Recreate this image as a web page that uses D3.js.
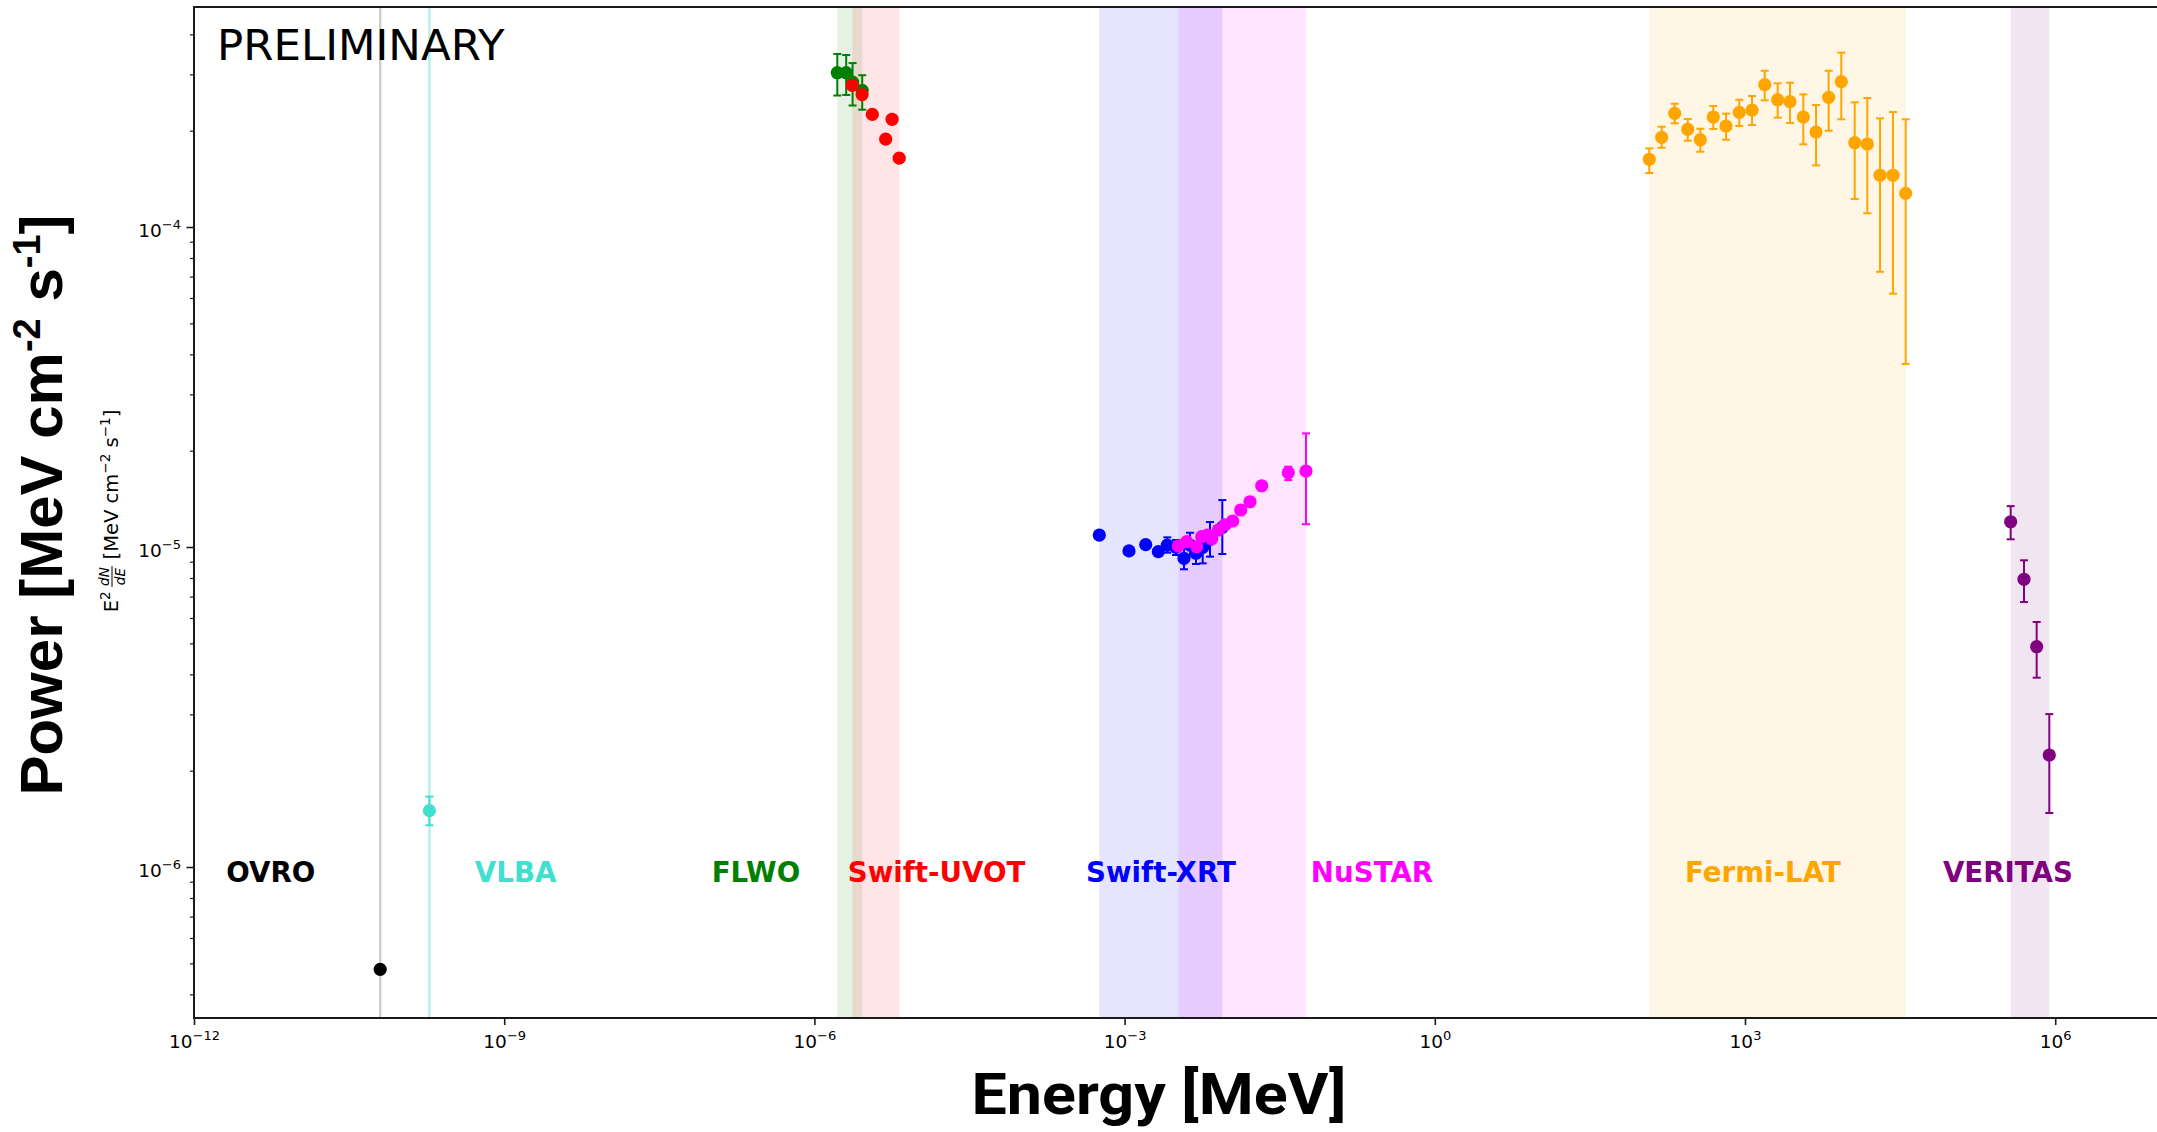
<!DOCTYPE html>
<html>
<head>
<meta charset="utf-8">
<script src="https://cdn.jsdelivr.net/npm/d3@7"></script>
<style>
  html, body { margin: 0; padding: 0; background: #ffffff; }
  svg { display: block; }
</style>
</head>
<body>
<svg id="chart" width="2157" height="1132"></svg>
<script>
// ---- Multi-wavelength SED: E^2 dN/dE [MeV cm^-2 s^-1] vs photon energy [MeV] ----

const instruments = ["OVRO", "VLBA", "FLWO", "Swift-UVOT", "Swift-XRT", "NuSTAR", "Fermi-LAT", "VERITAS"];
const instrumentColors = ["#000000", "#40e0d0", "#008000", "#ff0000", "#0000ff", "#ff00ff", "#ffa500", "#800080"];
// energy (MeV) on which each instrument name is centred
const labelEnergy = [5.53e-12, 1.29e-9, 2.72e-7, 1.52e-5, 2.25e-3, 0.247, 1.49e3, 3.49e5];

// axis ticks
const xTickExponents = [-12, -9, -6, -3, 0, 3, 6];
const yTickExponents = [-6, -5, -4];

// OVRO 15 GHz
const ovroEnergy = [6.32e-11];
const ovroFlux   = [4.79e-7];

// VLBA 43 GHz
const vlbaEnergy = [1.89e-10];
const vlbaFlux   = [1.50e-6];
const vlbaHigh   = [1.66e-6];
const vlbaLow    = [1.35e-6];

// FLWO optical
const flwoEnergy = [1.665e-6, 2.03e-6, 2.34e-6, 2.90e-6];
const flwoFlux   = [3.035e-4, 3.035e-4, 2.835e-4, 2.673e-4];
const flwoHigh   = [3.472e-4, 3.447e-4, 3.253e-4, 2.981e-4];
const flwoLow    = [2.576e-4, 2.586e-4, 2.397e-4, 2.326e-4];

// Swift-UVOT
const uvotEnergy = [2.32e-6, 2.89e-6, 3.63e-6, 4.89e-6, 5.64e-6, 6.61e-6];
const uvotFlux   = [2.772e-4, 2.593e-4, 2.250e-4, 1.881e-4, 2.171e-4, 1.641e-4];

// Swift-XRT
const xrtEnergy = [5.69e-4, 1.103e-3, 1.600e-3, 2.118e-3, 2.588e-3, 3.142e-3, 3.753e-3, 4.290e-3, 4.904e-3, 5.69e-3, 6.70e-3, 8.81e-3];
const xrtFlux   = [1.090e-5, 9.72e-6, 1.017e-5, 9.67e-6, 1.014e-5, 9.98e-6, 9.22e-6, 1.014e-5, 9.56e-6, 9.98e-6, 1.057e-5, 1.152e-5];
const xrtHigh   = [null, null, null, null, 1.072e-5, 1.052e-5, 9.98e-6, 1.108e-5, 1.039e-5, 1.052e-5, 1.197e-5, 1.402e-5];
const xrtLow    = [null, null, null, null, 9.60e-6, 9.44e-6, 8.52e-6, 9.44e-6, 8.85e-6, 8.89e-6, 9.33e-6, 9.51e-6];

// NuSTAR
const nustarEnergy = [3.31e-3, 3.99e-3, 4.98e-3, 5.57e-3, 6.31e-3, 6.96e-3, 8.06e-3, 9.35e-3, 1.110e-2, 1.327e-2, 1.632e-2, 2.118e-2, 3.83e-2, 5.68e-2];
const nustarFlux   = [1.007e-5, 1.039e-5, 1.002e-5, 1.077e-5, 1.090e-5, 1.061e-5, 1.130e-5, 1.172e-5, 1.206e-5, 1.305e-5, 1.385e-5, 1.554e-5, 1.707e-5, 1.728e-5];
const nustarHigh   = [null, null, null, null, null, null, null, null, null, null, null, null, 1.782e-5, 2.265e-5];
const nustarLow    = [null, null, null, null, null, null, null, null, null, null, null, null, 1.619e-5, 1.178e-5];

// Fermi-LAT
const fermiEnergy = [118.6, 156.3, 208.9, 279.3, 369.8, 493.3, 654.6, 881, 1169.5, 1552, 2070, 2723, 3664, 4864, 6442, 8531, 11510, 15240, 20230, 26980, 35810];
const fermiFlux   = [1.628e-4, 1.906e-4, 2.265e-4, 2.019e-4, 1.874e-4, 2.207e-4, 2.068e-4, 2.282e-4, 2.320e-4, 2.785e-4, 2.499e-4, 2.464e-4, 2.207e-4, 1.981e-4, 2.543e-4, 2.846e-4, 1.834e-4, 1.817e-4, 1.451e-4, 1.451e-4, 1.274e-4];
const fermiHigh   = [1.761e-4, 2.058e-4, 2.428e-4, 2.175e-4, 2.028e-4, 2.388e-4, 2.261e-4, 2.499e-4, 2.567e-4, 3.078e-4, 2.813e-4, 2.825e-4, 2.598e-4, 2.406e-4, 3.078e-4, 3.505e-4, 2.453e-4, 2.530e-4, 2.186e-4, 2.287e-4, 2.171e-4];
const fermiLow    = [1.475e-4, 1.769e-4, 2.109e-4, 1.861e-4, 1.719e-4, 2.024e-4, 1.874e-4, 2.068e-4, 2.083e-4, 2.488e-4, 2.196e-4, 2.113e-4, 1.813e-4, 1.558e-4, 1.999e-4, 2.171e-4, 1.223e-4, 1.104e-4, 7.245e-5, 6.188e-5, 3.731e-5];

// VERITAS
const veritasEnergy = [3.71e5, 4.99e5, 6.62e5, 8.77e5];
const veritasFlux   = [1.199e-5, 7.93e-6, 4.88e-6, 2.239e-6];
const veritasHigh   = [1.342e-5, 9.09e-6, 5.83e-6, 3.005e-6];
const veritasLow    = [1.057e-5, 6.73e-6, 3.905e-6, 1.475e-6];

// table of series, in drawing order
const seriesEnergy = [ovroEnergy, vlbaEnergy, flwoEnergy, uvotEnergy, xrtEnergy, nustarEnergy, fermiEnergy, veritasEnergy];
const seriesFlux   = [ovroFlux, vlbaFlux, flwoFlux, uvotFlux, xrtFlux, nustarFlux, fermiFlux, veritasFlux];
const seriesHigh   = [null, vlbaHigh, flwoHigh, null, xrtHigh, nustarHigh, fermiHigh, veritasHigh];
const seriesLow    = [null, vlbaLow, flwoLow, null, xrtLow, nustarLow, fermiLow, veritasLow];

const series = instruments.map((name, i) => ({
  name,
  color: instrumentColors[i],
  labelE: labelEnergy[i],
  points: seriesEnergy[i].map((e, j) => ({
    e,
    f: seriesFlux[i][j],
    hi: seriesHigh[i] ? seriesHigh[i][j] : null,
    lo: seriesLow[i] ? seriesLow[i][j] : null
  }))
}));

// ---- layout ----
const svg = d3.select("#chart");
const plot = { left: 194, top: 7, bottom: 1018, right: 2158.6 };

const x = d3.scaleLog().domain([1e-12, 1e7]).range([plot.left, plot.right]);
const y = d3.scaleLog().domain([3.374e-7, 4.87e-4]).range([plot.bottom, plot.top]);

svg.append("defs").append("clipPath").attr("id", "plotClip")
  .append("rect")
  .attr("x", plot.left).attr("y", plot.top)
  .attr("width", plot.right - plot.left).attr("height", plot.bottom - plot.top);

const area = svg.append("g").attr("clip-path", "url(#plotClip)");

// ---- coverage bands: each instrument's energy span ----
const bands = area.append("g");
series.forEach(s => {
  const [e0, e1] = d3.extent(s.points, p => p.e);
  const x0 = x(e0), x1 = x(e1);
  if (x1 - x0 < 1) {
    bands.append("line")
      .attr("x1", x0).attr("x2", x0)
      .attr("y1", plot.top).attr("y2", plot.bottom)
      .attr("stroke", s.color)
      .attr("stroke-width", 2.4)
      .attr("stroke-opacity", s.color === "#000000" ? 0.2 : 0.42);
  } else {
    bands.append("rect")
      .attr("x", x0).attr("y", plot.top)
      .attr("width", x1 - x0).attr("height", plot.bottom - plot.top)
      .attr("fill", s.color).attr("fill-opacity", 0.1);
  }
});

// ---- instrument names ----
const labels = svg.append("g")
  .attr("font-family", "DejaVu Sans")
  .attr("font-weight", "bold")
  .attr("font-size", 27.7)
  .attr("text-anchor", "middle");
series.forEach(s => {
  labels.append("text")
    .attr("x", x(s.labelE))
    .attr("y", 881.5)
    .attr("fill", s.color)
    .text(s.name);
});

// ---- data points with error bars ----
const marks = area.append("g");
const capHalf = 4;
series.forEach(s => {
  const g = marks.append("g");
  const withErr = s.points.filter(p => p.hi != null && p.lo != null);
  const eb = g.selectAll("g.err").data(withErr).join("g")
    .attr("stroke", s.color).attr("stroke-width", 2).attr("fill", "none");
  eb.append("line")
    .attr("x1", p => x(p.e)).attr("x2", p => x(p.e))
    .attr("y1", p => y(p.hi)).attr("y2", p => y(p.lo));
  eb.append("line")
    .attr("x1", p => x(p.e) - capHalf).attr("x2", p => x(p.e) + capHalf)
    .attr("y1", p => y(p.hi)).attr("y2", p => y(p.hi));
  eb.append("line")
    .attr("x1", p => x(p.e) - capHalf).attr("x2", p => x(p.e) + capHalf)
    .attr("y1", p => y(p.lo)).attr("y2", p => y(p.lo));
  g.selectAll("circle").data(s.points).join("circle")
    .attr("cx", p => x(p.e))
    .attr("cy", p => y(p.f))
    .attr("r", 6.6)
    .attr("fill", s.color);
});

// ---- axes ----
const axisColor = "#1a1a1a";
function powerLabel(sel, exp) {
  sel.text(null);
  sel.append("tspan").text("10");
  sel.append("tspan")
    .attr("font-size", 13)
    .attr("dy", -8.5)
    .text(exp < 0 ? "\u2212" + (-exp) : String(exp));
}

const xAxis = svg.append("g")
  .attr("transform", `translate(0,${plot.bottom})`)
  .call(d3.axisBottom(x)
    .tickValues(xTickExponents.map(k => Math.pow(10, k)))
    .tickSize(7).tickSizeOuter(0).tickFormat(""));
xAxis.select(".domain").remove();
xAxis.selectAll(".tick line").attr("stroke", axisColor).attr("stroke-width", 1.6);
xAxis.selectAll(".tick").each(function (d, i) {
  const t = d3.select(this).select("text");
  t.attr("y", 30).attr("dy", null)
    .attr("font-family", "DejaVu Sans").attr("font-size", 18.5)
    .attr("fill", "#000").attr("text-anchor", "middle");
  powerLabel(t, xTickExponents[i]);
});

// minor y ticks
const yMinor = [];
for (let k = -7; k <= -4; k++) {
  for (let m = 2; m <= 9; m++) {
    const v = m * Math.pow(10, k);
    if (v > y.domain()[0] && v < y.domain()[1]) yMinor.push(v);
  }
}
const yAxisMinor = svg.append("g")
  .attr("transform", `translate(${plot.left},0)`)
  .call(d3.axisLeft(y).tickValues(yMinor).tickSize(4).tickSizeOuter(0).tickFormat(""));
yAxisMinor.select(".domain").remove();
yAxisMinor.selectAll(".tick line").attr("stroke", axisColor).attr("stroke-width", 1.2);

const yAxis = svg.append("g")
  .attr("transform", `translate(${plot.left},0)`)
  .call(d3.axisLeft(y)
    .tickValues(yTickExponents.map(k => Math.pow(10, k)))
    .tickSize(7.5).tickSizeOuter(0).tickFormat(""));
yAxis.select(".domain").remove();
yAxis.selectAll(".tick line").attr("stroke", axisColor).attr("stroke-width", 1.6);
yAxis.selectAll(".tick").each(function (d, i) {
  const t = d3.select(this).select("text");
  t.attr("x", -13).attr("y", 9.5).attr("dy", null)
    .attr("font-family", "DejaVu Sans").attr("font-size", 18.5)
    .attr("fill", "#000").attr("text-anchor", "end");
  powerLabel(t, yTickExponents[i]);
});

// frame
svg.append("rect")
  .attr("x", plot.left).attr("y", plot.top)
  .attr("width", plot.right - plot.left).attr("height", plot.bottom - plot.top)
  .attr("fill", "none").attr("stroke", axisColor).attr("stroke-width", 2);

// ---- texts ----
svg.append("text")
  .attr("x", 217).attr("y", 60)
  .attr("font-family", "DejaVu Sans").attr("font-size", 43.5)
  .attr("fill", "#000")
  .text("PRELIMINARY");

svg.append("text")
  .attr("x", 1159).attr("y", 1114)
  .attr("text-anchor", "middle")
  .attr("font-family", "Roboto").attr("font-weight", "bold").attr("font-size", 58)
  .attr("textLength", 375).attr("lengthAdjust", "spacingAndGlyphs")
  .attr("fill", "#000")
  .text("Energy [MeV]");

// big vertical title
const power = svg.append("text")
  .attr("transform", "translate(62,505) rotate(-90)")
  .attr("text-anchor", "middle")
  .attr("font-family", "Liberation Sans").attr("font-weight", "bold").attr("font-size", 60)
  .attr("fill", "#000");
power.append("tspan").text("Power [MeV cm");
power.append("tspan").attr("font-size", 38).attr("dy", -22).text("-2");
power.append("tspan").attr("dy", 22).text("\u00a0s");
power.append("tspan").attr("font-size", 38).attr("dy", -22).text("-1");
power.append("tspan").attr("dy", 22).text("]");

// small axis label: E^2 dN/dE [MeV cm^-2 s^-1]
const small = svg.append("g")
  .attr("transform", "translate(118,511) rotate(-90)")
  .attr("font-family", "DejaVu Sans").attr("fill", "#000");
const row = small.append("g");
const pieces = [
  { t: "E", s: 19.5 },
  { t: "2", s: 13.6, dy: -8 },
  { t: "\u2009", s: 19.5 },
  { frac: ["dN", "dE"], s: 13.6 },
  { t: "\u00a0[MeV\u00a0cm", s: 19.5 },
  { t: "\u22122", s: 13.6, dy: -8 },
  { t: "\u00a0s", s: 19.5 },
  { t: "\u22121", s: 13.6, dy: -8 },
  { t: "]", s: 19.5 }
];
let cursor = 0;
pieces.forEach(p => {
  if (p.frac) {
    const num = row.append("text").attr("font-size", p.s).attr("font-style", "italic")
      .attr("text-anchor", "middle").text(p.frac[0]);
    const den = row.append("text").attr("font-size", p.s).attr("font-style", "italic")
      .attr("text-anchor", "middle").text(p.frac[1]);
    const w = Math.max(num.node().getComputedTextLength(), den.node().getComputedTextLength()) + 3;
    num.attr("x", cursor + w / 2).attr("y", -8.8);
    den.attr("x", cursor + w / 2).attr("y", 6.8);
    row.append("line")
      .attr("x1", cursor + 0.5).attr("x2", cursor + w - 0.5)
      .attr("y1", -6).attr("y2", -6)
      .attr("stroke", "#000").attr("stroke-width", 1);
    cursor += w;
  } else {
    const t = row.append("text").attr("font-size", p.s)
      .attr("x", cursor).attr("y", p.dy || 0).text(p.t);
    cursor += t.node().getComputedTextLength();
  }
});
row.attr("transform", `translate(${-cursor / 2},0)`);
</script>
</body>
</html>
